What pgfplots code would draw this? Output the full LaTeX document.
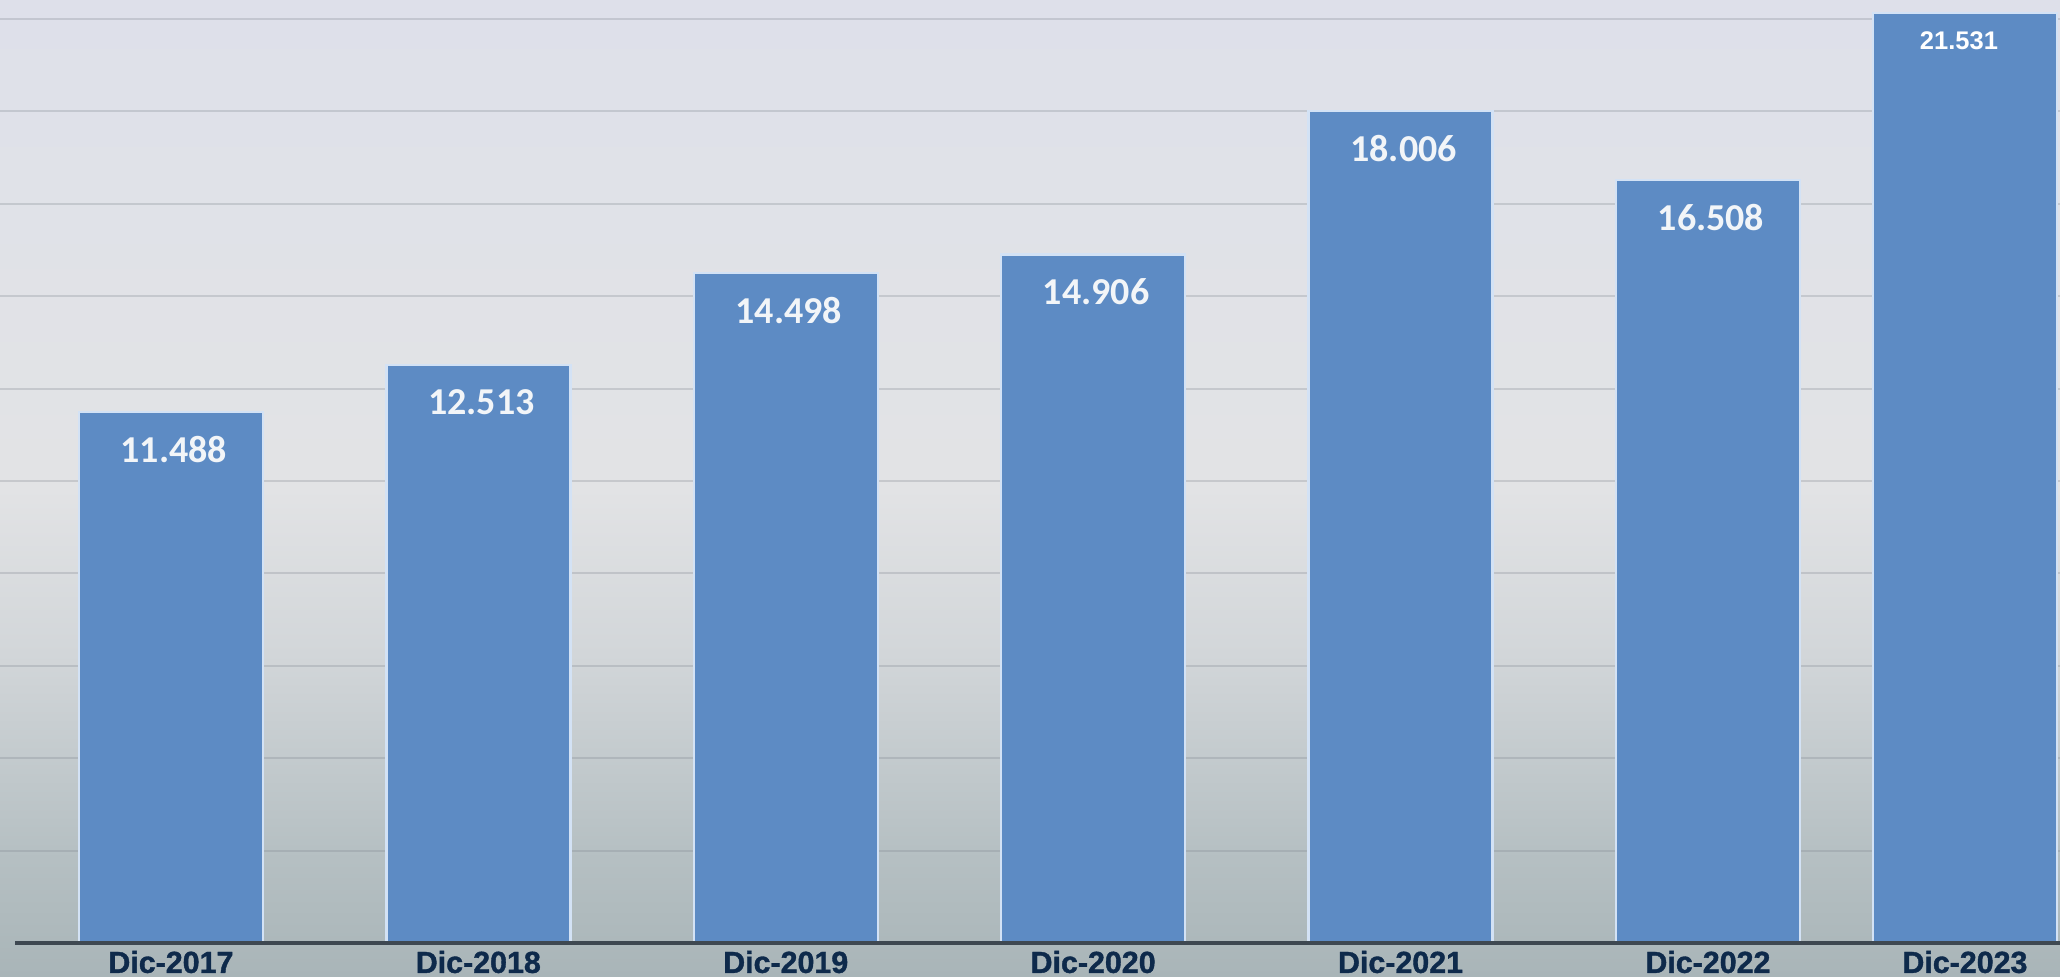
\documentclass[border=0pt]{standalone}
\usepackage{pgfplots}
\pgfplotsset{compat=1.18}
\usepackage{pgfplotstable}
\usepackage{fontspec}
\setmainfont{Liberation Sans}
\newfontfamily\heavy{Liberation Sans}[BoldFeatures={FakeBold=1.2}]
\newfontfamily\carlito{Carlito}
\definecolor{barblue}{HTML}{5D8BC4}
\definecolor{halo}{HTML}{D3E2F5}
\definecolor{navy}{HTML}{0E2A4B}
\definecolor{labw}{HTML}{F2F5F8}
\definecolor{axisc}{HTML}{3E4851}
\definecolor{gridc}{HTML}{7E858E}
\definecolor{bgA}{HTML}{A9B5B8}
\definecolor{bgB}{HTML}{B6C0C3}
\definecolor{bgC}{HTML}{D2D6D9}
\definecolor{bgD}{HTML}{E2E3E5}
\definecolor{bgE}{HTML}{E0E2E8}
\definecolor{bgF}{HTML}{DEE0EA}
\pgfdeclareverticalshading{bgshade}{100bp}{color(0bp)=(bgA); color(25bp)=(bgA); color(31.5bp)=(bgB); color(41.5bp)=(bgC); color(50bp)=(bgD); color(65bp)=(bgE); color(75bp)=(bgF); color(100bp)=(bgF)}
\pgfplotstableread{
x y lab
0 11.488 11.488
1 12.513 12.513
2 14.498 14.498
3 14.906 14.906
4 18.006 18.006
5 16.508 16.508
}\mainbars
\pgfplotstableread{
x y lab
5.836 20.13 21.531
}\lastbar
\begin{document}
\begin{tikzpicture}
\useasboundingbox (0,-16.5pt) rectangle (1030pt,471.5pt);
\shade[shading=bgshade] (0,-16.5pt) rectangle (1030pt,471.5pt);
\begin{axis}[
  at={(0,0)}, anchor=south west,
  scale only axis, width=1030pt, height=471.5pt,
  xmin=-0.556, xmax=6.145, ymin=0, ymax=20.41,
  axis line style={draw=none},
  ytick={2,4,...,20}, yticklabel=\empty, ymajorgrids,
  grid style={line width=1pt, draw=gridc, opacity=0.28},
  major tick length=0pt, tick style={draw=none},
  xtick={0,1,2,3,4,5,5.836},
  xticklabels={Dic-2017,Dic-2018,Dic-2019,Dic-2020,Dic-2021,Dic-2022,Dic-2023},
  xticklabel style={font=\heavy\bfseries\fontsize{15.2}{16}\selectfont, text=navy, anchor=center, yshift=-9.5pt},
  ybar, bar width=92pt, bar shift=0pt,
  clip=false,
]
\addplot[fill=barblue, draw=halo, line width=1.2pt, nodes near coords, point meta=explicit symbolic,
  every node near coord/.append style={font=\carlito\bfseries\fontsize{19}{20}\selectfont, text=labw, anchor=center, yshift=-18.5pt, xshift=1.5pt}]
  table[x=x,y=y,meta=lab]{\mainbars};
\addplot[fill=barblue, draw=halo, line width=1.2pt, nodes near coords, point meta=explicit symbolic,
  every node near coord/.append style={font=\bfseries\fontsize{12.75}{14}\selectfont, text=white, anchor=center, yshift=-14pt, xshift=-3pt}]
  table[x=x,y=y,meta=lab]{\lastbar};
\draw[line width=2.2pt, draw=axisc] (axis cs:-0.507,0) -- (axis cs:6.145,0);
\end{axis}
\end{tikzpicture}
\end{document}
